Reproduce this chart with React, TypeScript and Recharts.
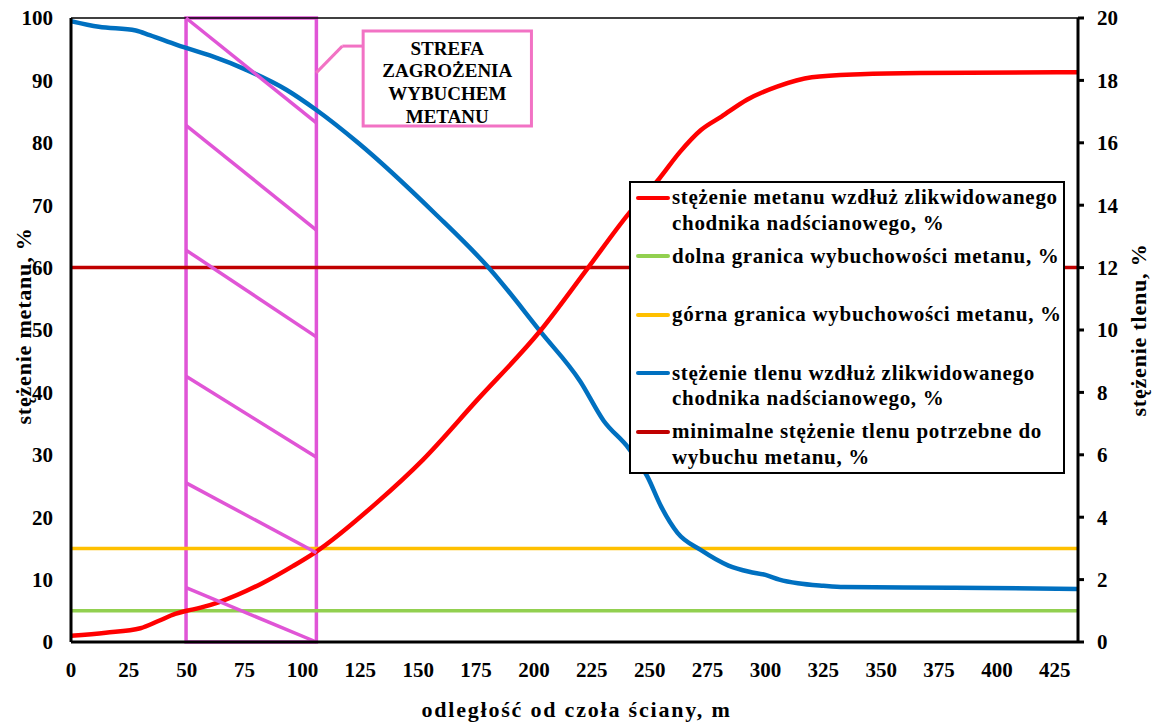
import React from 'react';
import {
  ComposedChart,
  Line,
  XAxis,
  YAxis,
  ReferenceLine,
  ReferenceArea,
  Legend,
  Label,
} from 'recharts';

const FONT = "'Liberation Serif', 'Times New Roman', Times, serif";

// ---- ticks ----
const xTicks = [0, 25, 50, 75, 100, 125, 150, 175, 200, 225, 250, 275, 300, 325, 350, 375, 400, 425];
const leftTicks = [0, 10, 20, 30, 40, 50, 60, 70, 80, 90, 100];
const rightTicks = [0, 2, 4, 6, 8, 10, 12, 14, 16, 18, 20];
const xMax = 435;

// ---- methane concentration (left axis, %) ----
const methaneDistance = [0, 15, 30, 38, 45, 50, 56, 64, 82, 96, 106, 132, 152, 175, 203, 223, 241, 254, 263, 272, 281, 292, 305, 320, 341, 367, 435];
const methaneValues = [1.0, 1.5, 2.2, 3.4, 4.5, 5.0, 5.5, 6.4, 9.3, 12.2, 14.5, 22.3, 29.2, 38.6, 50.0, 59.8, 68.7, 74.2, 78.5, 82.0, 84.2, 86.9, 89.0, 90.5, 91.0, 91.2, 91.3];

// ---- oxygen concentration (right axis, %) ----
const oxygenDistance = [0, 12, 28, 34, 46, 60, 76, 93, 106, 124, 157, 181, 203, 220, 230, 241, 249, 255, 262, 272, 284, 293, 300, 306, 314, 325, 334, 380, 435];
const oxygenValues = [19.9, 19.72, 19.6, 19.45, 19.13, 18.8, 18.33, 17.7, 17.05, 16.0, 13.75, 11.95, 9.93, 8.35, 7.1, 6.2, 5.3, 4.33, 3.5, 2.95, 2.45, 2.25, 2.15, 2.0, 1.88, 1.8, 1.76, 1.74, 1.7];

// ---- limits ----
const lowerExplosiveLimit = 5; // left axis
const upperExplosiveLimit = 15; // left axis
const minimalOxygen = 12; // right axis

// ---- explosion hazard zone ----
const zoneStart = 49.7;
const zoneEnd = 106;
const hatchLeft = [100, 82.8, 62.8, 42.6, 25.5, 8.7];
const hatchRight = [83.2, 66, 48.9, 29.6, 14.3, 0];
const zoneLabel = ['STREFA', 'ZAGROŻENIA', 'WYBUCHEM', 'METANU'];

// ---- legend ----
const legendNames = [
  ['stężenie metanu wzdłuż zlikwidowanego', 'chodnika nadścianowego, %'],
  ['dolna granica wybuchowości metanu, %'],
  ['górna granica wybuchowości metanu, %'],
  ['stężenie tlenu wzdłuż zlikwidowanego', 'chodnika nadścianowego, %'],
  ['minimalne stężenie tlenu potrzebne do', 'wybuchu metanu, %'],
];
const legendColors = ['#FF0000', '#92D050', '#FFC000', '#0070C0', '#C00000'];

const methaneData = methaneDistance.map((d, i) => ({ d, v: methaneValues[i] }));
const oxygenData = oxygenDistance.map((d, i) => ({ d, v: oxygenValues[i] }));
const flat = (v: number) => [
  { d: 0, v },
  { d: xMax, v },
];

const PINK = '#E055D6';
const PINK2 = '#F272C4';

const tickStyle = { fill: '#000', fontSize: 21, fontWeight: 'bold' as const, fontFamily: FONT };

const renderLegend = () => (
  <div
    style={{
      boxSizing: 'border-box',
      width: 436,
      height: 293,
      border: '2px solid #000',
      background: '#fff',
      position: 'relative',
      fontFamily: FONT,
      fontWeight: 'bold',
      fontSize: 21,
      lineHeight: '25.5px',
      letterSpacing: '0.7px',
      color: '#000',
    }}
  >
    {legendNames.map((lines, i) => (
      <div key={i} style={{ position: 'absolute', left: 0, top: 2 + i * 58.5, width: '100%' }}>
        <div
          style={{
            position: 'absolute',
            left: 5,
            top: 10.75,
            width: 34,
            height: 4,
            borderRadius: 2,
            background: legendColors[i],
          }}
        />
        <div style={{ marginLeft: 41, whiteSpace: 'nowrap' }}>
          {lines.map((l, j) => (
            <div key={j}>{l}</div>
          ))}
        </div>
      </div>
    ))}
  </div>
);

const axisTitle = (text: string, kind: 'x' | 'left' | 'right') => (props: any) => {
  const vb = props.viewBox || {};
  const common = {
    fontFamily: FONT,
    fontWeight: 'bold' as const,
    fontSize: 22,
    fill: '#000',
    textAnchor: 'middle' as const,
  };
  if (kind === 'x') {
    const x = vb.x + vb.width / 2 + 2;
    const y = vb.y + 75;
    return (
      <text x={x} y={y} {...common} style={{ letterSpacing: '1.8px' }}>
        {text}
      </text>
    );
  }
  const x = kind === 'left' ? vb.x + 31 : vb.x + 68;
  const y = vb.y + vb.height / 2 + (kind === 'left' ? -4 : 0);
  return (
    <text x={x} y={y} transform={`rotate(-90 ${x} ${y})`} {...common} style={{ letterSpacing: '0.8px' }}>
      {text}
    </text>
  );
};

const zoneLabelContent = (props: any) => {
  const vb = props.viewBox || {};
  const cx = vb.x + vb.width / 2;
  return (
    <g>
      {zoneLabel.map((t, i) => (
        <text
          key={i}
          x={cx}
          y={vb.y + 17 + i * 22.7}
          textAnchor="middle"
          dominantBaseline="central"
          fontFamily={FONT}
          fontWeight="bold"
          fontSize={19}
          fill="#000"
        >
          {t}
        </text>
      ))}
    </g>
  );
};

export default function App() {
  return (
    <div style={{ position: 'absolute', left: 0, top: 0, width: 1158, height: 722, background: '#fff' }}>
      <ComposedChart width={1158} height={722} margin={{ top: 18, right: 0, bottom: 0, left: 0 }}>
        <XAxis
          xAxisId="x"
          dataKey="d"
          type="number"
          domain={[0, xMax]}
          ticks={xTicks}
          allowDataOverflow
          height={80}
          axisLine={{ stroke: '#000', strokeWidth: 3 }}
          tickLine={false}
          tickSize={6}
          tickMargin={14}
          tick={tickStyle}
          interval={0}
        >
          <Label content={axisTitle('odległość od czoła ściany, m', 'x')} />
        </XAxis>
        <YAxis
          yAxisId="left"
          orientation="left"
          type="number"
          domain={[0, 100]}
          ticks={leftTicks}
          width={71}
          axisLine={{ stroke: '#000', strokeWidth: 3 }}
          tickLine={false}
          tickSize={6}
          tickMargin={12}
          tick={tickStyle}
          interval={0}
        >
          <Label content={axisTitle('stężenie metanu, %', 'left')} />
        </YAxis>
        <YAxis
          yAxisId="right"
          orientation="right"
          type="number"
          domain={[0, 20]}
          ticks={rightTicks}
          width={80}
          axisLine={{ stroke: '#000', strokeWidth: 3 }}
          tickLine={{ stroke: '#000', strokeWidth: 3 }}
          tickSize={6}
          tickMargin={13}
          tick={tickStyle}
          interval={0}
        >
          <Label content={axisTitle('stężenie tlenu, %', 'right')} />
        </YAxis>

        <ReferenceLine xAxisId="x" yAxisId="left" y={100} stroke="#000" strokeWidth={1.5} />

        <Line
          xAxisId="x"
          yAxisId="left"
          data={flat(lowerExplosiveLimit)}
          dataKey="v"
          name="dolna granica wybuchowości metanu, %"
          type="linear"
          stroke="#92D050"
          strokeWidth={3.5}
          dot={false}
          activeDot={false}
          isAnimationActive={false}
        />
        <Line
          xAxisId="x"
          yAxisId="left"
          data={flat(upperExplosiveLimit)}
          dataKey="v"
          name="górna granica wybuchowości metanu, %"
          type="linear"
          stroke="#FFC000"
          strokeWidth={3.5}
          dot={false}
          activeDot={false}
          isAnimationActive={false}
        />
        <Line
          xAxisId="x"
          yAxisId="right"
          data={flat(minimalOxygen)}
          dataKey="v"
          name="minimalne stężenie tlenu potrzebne do wybuchu metanu, %"
          type="linear"
          stroke="#C00000"
          strokeWidth={3.5}
          dot={false}
          activeDot={false}
          isAnimationActive={false}
        />
        <Line
          xAxisId="x"
          yAxisId="right"
          data={oxygenData}
          dataKey="v"
          name="stężenie tlenu wzdłuż zlikwidowanego chodnika nadścianowego, %"
          type="monotone"
          stroke="#0070C0"
          strokeWidth={4.5}
          dot={false}
          activeDot={false}
          isAnimationActive={false}
        />
        <Line
          xAxisId="x"
          yAxisId="left"
          data={methaneData}
          dataKey="v"
          name="stężenie metanu wzdłuż zlikwidowanego chodnika nadścianowego, %"
          type="monotone"
          stroke="#FF0000"
          strokeWidth={4.5}
          dot={false}
          activeDot={false}
          isAnimationActive={false}
        />

        <ReferenceArea
          xAxisId="x"
          yAxisId="left"
          x1={zoneStart}
          x2={zoneEnd}
          y1={0}
          y2={100}
          fill="none"
          stroke={PINK}
          strokeWidth={3.5}
        />
        {hatchLeft.map((yl, i) => (
          <ReferenceLine
            key={i}
            xAxisId="x"
            yAxisId="left"
            segment={[
              { x: zoneStart, y: yl },
              { x: zoneEnd, y: hatchRight[i] },
            ]}
            stroke={PINK}
            strokeWidth={3.5}
          />
        ))}

        <ReferenceLine
          xAxisId="x"
          yAxisId="left"
          segment={[
            { x: 105.9, y: 91.2 },
            { x: 117.2, y: 95.5 },
          ]}
          stroke={PINK2}
          strokeWidth={3}
        />
        <ReferenceLine
          xAxisId="x"
          yAxisId="left"
          segment={[
            { x: 117.2, y: 95.5 },
            { x: 126.2, y: 95.5 },
          ]}
          stroke={PINK2}
          strokeWidth={3}
        />
        <ReferenceArea
          xAxisId="x"
          yAxisId="left"
          x1={126.2}
          x2={198.9}
          y1={82.7}
          y2={97.9}
          fill="#fff"
          fillOpacity={1}
          stroke={PINK2}
          strokeWidth={3}
          label={zoneLabelContent}
        />

        <Legend
          content={renderLegend}
          layout="horizontal"
          verticalAlign="middle"
          align="center"
          wrapperStyle={{ left: 629, top: 181, width: 436, height: 293 }}
        />
      </ComposedChart>
    </div>
  );
}
